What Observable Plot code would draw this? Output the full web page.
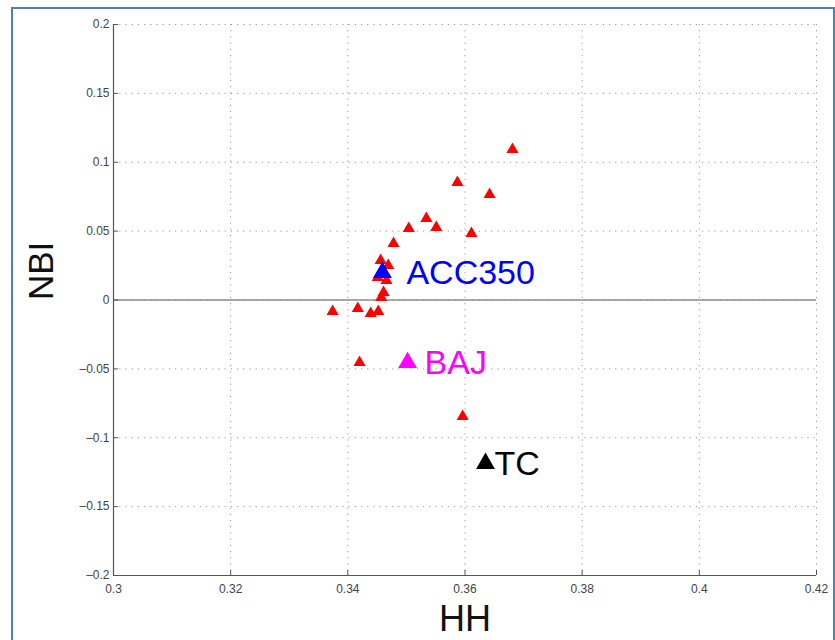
<!DOCTYPE html>
<html>
<head>
<meta charset="utf-8">
<script src="https://cdn.jsdelivr.net/npm/d3@7"></script>
<script src="https://cdn.jsdelivr.net/npm/@observablehq/plot@0.6"></script>
<style>
  html, body { margin: 0; padding: 0; background: #fff; }
  #wrap { position: relative; width: 835px; height: 640px; overflow: hidden; }
  #frame { position: absolute; left: 11px; top: 7px; width: 820px; height: 660px; border: 2px solid #4a7fc1; pointer-events: none; }
  svg { font-family: "Liberation Sans", Arial, sans-serif; }
</style>
</head>
<body>
<div id="wrap"><div id="frame"></div></div>
<script>
// Red sample points (HH, NBI)
const hhRed = [0.3681, 0.3587, 0.3642, 0.3534, 0.3551, 0.3504, 0.3611, 0.3478, 0.3456, 0.3469,
               0.3451, 0.3466, 0.3461, 0.3457, 0.3374, 0.3417, 0.3439, 0.3452, 0.3420, 0.3596];
const nbiRed = [0.1093, 0.0853, 0.0766, 0.0592, 0.0526, 0.0519, 0.0483, 0.0410, 0.0287, 0.0250,
                0.0163, 0.0142, 0.0054, 0.0018, -0.0083, -0.0062, -0.0098, -0.0083, -0.0454, -0.0846];

// Highlighted samples
const specialNames = ["ACC350", "BAJ", "TC"];
const specialHH = [0.3459, 0.3502, 0.3635];
const specialNBI = [0.0200, -0.0454, -0.1187];
const specialColors = ["#0000ff", "#ff00ff", "#000000"];

// Axis ticks
const xTicks = [0.3, 0.32, 0.34, 0.36, 0.38, 0.4, 0.42];
const xTickLabels = ["0.3", "0.32", "0.34", "0.36", "0.38", "0.4", "0.42"];
const yTicks = [0.2, 0.15, 0.1, 0.05, 0, -0.05, -0.1, -0.15, -0.2];
const yTickLabels = ["0.2", "0.15", "0.1", "0.05", "0", "\u20130.05", "\u20130.1", "\u20130.15", "\u20130.2"];

const red = hhRed.map((h, i) => ({hh: h, nbi: nbiRed[i]}));
const special = specialNames.map((n, i) => ({name: n, hh: specialHH[i], nbi: specialNBI[i], color: specialColors[i]}));
const labelDx = {ACC350: 24, BAJ: 17, TC: 9};
const xFmt = (d) => xTickLabels[xTicks.findIndex(t => Math.abs(t - d) < 1e-9)] ?? "";
const yFmt = (d) => yTickLabels[yTicks.findIndex(t => Math.abs(t - d) < 1e-9)] ?? "";

const chart = Plot.plot({
  width: 835,
  height: 640,
  marginLeft: 113,
  marginRight: 19,
  marginTop: 24,
  marginBottom: 65,
  style: {fontFamily: "Liberation Sans, Arial, sans-serif", background: "transparent"},
  x: {type: "linear", domain: [0.3, 0.42], label: null},
  y: {type: "linear", domain: [-0.2, 0.2], label: null},
  marks: [
    Plot.gridX(xTicks, {stroke: "#9a9a9a", strokeOpacity: 1, strokeDasharray: "1.2,5"}),
    Plot.gridY(yTicks, {stroke: "#9a9a9a", strokeOpacity: 1, strokeDasharray: "1.2,5"}),
    Plot.ruleY([0], {stroke: "#8c8c8c", strokeWidth: 1.3}),
    Plot.ruleX([0.3], {stroke: "#555", strokeWidth: 1.2}),
    Plot.ruleY([-0.2], {stroke: "#555", strokeWidth: 1.2}),
    Plot.axisX(xTicks, {anchor: "bottom", tickSize: 0, tickPadding: 9, fontSize: 12, fill: "#444", label: null, tickFormat: xFmt}),
    Plot.axisY(yTicks, {anchor: "left", tickSize: 0, tickPadding: 4, fontSize: 12, fill: "#444", label: null, tickFormat: yFmt}),
    Plot.axisX(xTicks, {anchor: "bottom", tickSize: 5, dy: -5, stroke: "#555", label: null, tickFormat: () => ""}),
    Plot.axisY(yTicks, {anchor: "left", tickSize: 5, dx: 5, stroke: "#555", label: null, tickFormat: () => ""}),
    Plot.dot(red, {x: "hh", y: "nbi", symbol: "triangle", r: 4.5, fill: "#ff0000", stroke: "none"}),
    Plot.dot(special, {x: "hh", y: "nbi", symbol: "triangle", r: 7, fill: "color", stroke: "none"}),
    ...special.map((s) => Plot.text([s], {x: "hh", y: "nbi", text: "name", fill: s.color, fontSize: 34,
      textAnchor: "start", dx: labelDx[s.name], dy: 1, lineAnchor: "middle"})),
    Plot.text(["HH"], {frameAnchor: "bottom", text: (d) => d, dy: 44, fontSize: 36, fill: "#111", lineAnchor: "middle"}),
    Plot.text(["NBI"], {frameAnchor: "left", text: (d) => d, dx: -72, rotate: -90, fontSize: 35, fill: "#111", lineAnchor: "middle"})
  ]
});
document.getElementById("wrap").prepend(chart);
</script>
</body>
</html>
